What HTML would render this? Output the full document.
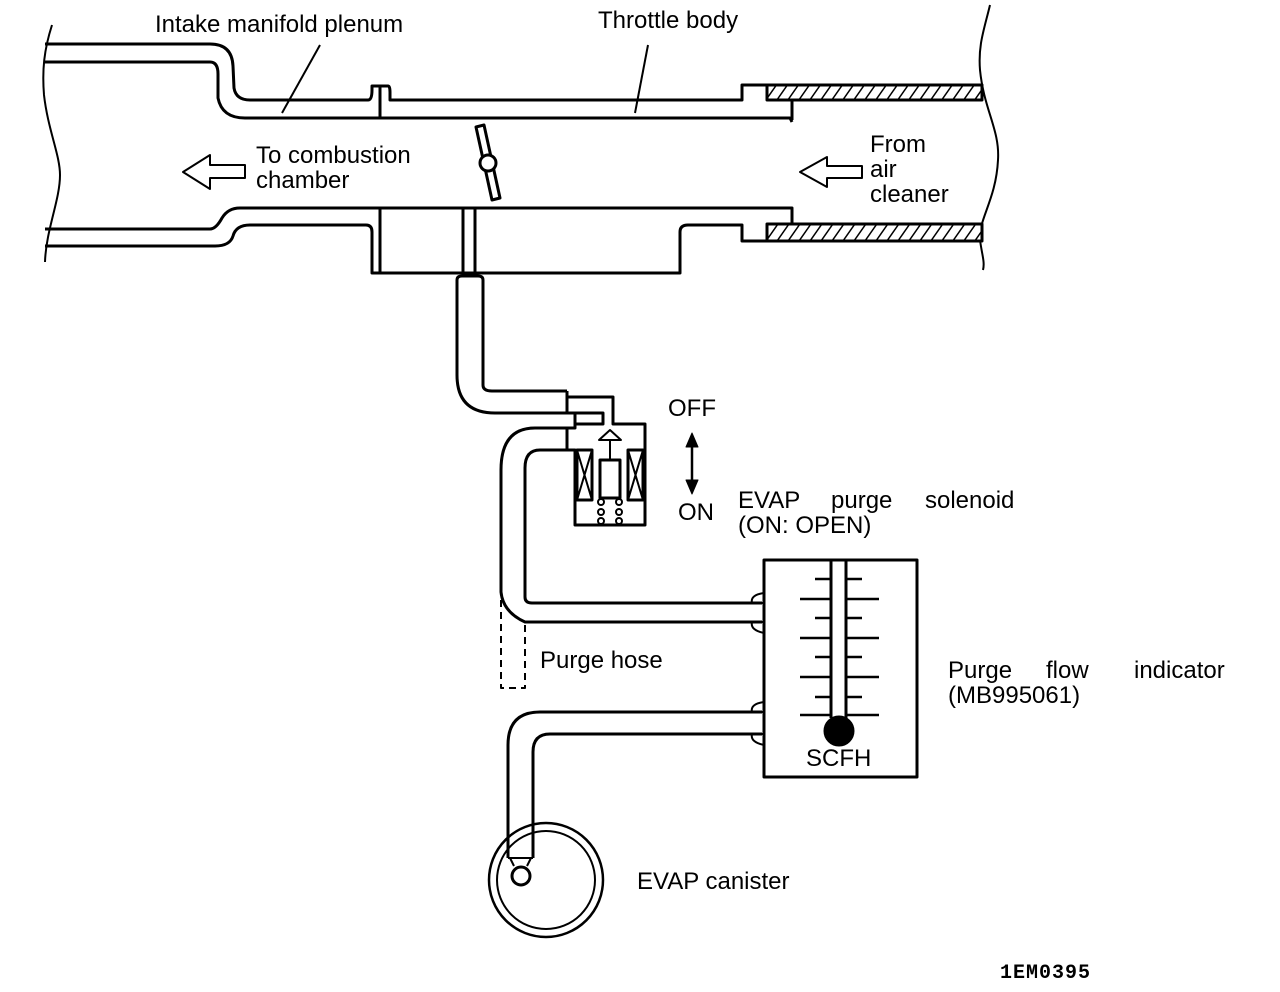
<!DOCTYPE html>
<html><head><meta charset="utf-8"><style>
html,body{margin:0;padding:0;background:#fff}
svg{display:block}
text{font-family:"Liberation Sans",Arial,sans-serif;font-size:24px;fill:#000}
</style></head><body>
<svg width="1280" height="992" viewBox="0 0 1280 992" xmlns="http://www.w3.org/2000/svg">
<defs>
<pattern id="h" width="9" height="9" patternUnits="userSpaceOnUse" patternTransform="rotate(35)">
<rect width="9" height="9" fill="#fff"/><line x1="0" y1="0" x2="0" y2="9" stroke="#000" stroke-width="3"/>
</pattern>
</defs>
<g fill="none" stroke="#000" stroke-width="3" stroke-linejoin="round">
<path d="M52 25 C44 50 42 70 44 95 C48 130 60 155 60 175 C60 200 46 230 45 262" stroke-width="2"/>
<path d="M990 5 C984 30 978 45 980 70 C984 110 1000 130 998 160 C996 200 978 220 980 240 C982 255 985 262 983 270" stroke-width="2"/>
<path d="M45 44 L210 44 Q232 44 233 66 L234 88 Q236 100 250 100 L368 100 Q372 100 372 90 L372 86 L388 86 Q390 86 390 92 L390 100 L742 100 L742 85 L767 85"/>
<path d="M45 62 L210 62 Q218 62 218 74 L218 98 Q222 118 245 118 L790 118 L792 122"/>
<line x1="380" y1="86" x2="380" y2="118"/>
<rect x="767" y="85" width="215" height="15" fill="url(#h)"/>
<line x1="792" y1="100" x2="792" y2="120"/>
<path d="M45 229 L210 229 Q216 229 222 218 Q228 208 240 208 L792 208 L792 224"/>
<path d="M45 246 L215 246 Q230 246 233 236 Q236 225 250 225 L366 225 Q372 225 372 232 L372 273 L680 273 L680 232 Q680 225 688 225 L742 225 L742 241 L767 241"/>
<rect x="767" y="224" width="215" height="17" fill="url(#h)"/>
<line x1="380" y1="208" x2="380" y2="273"/>
<line x1="463" y1="208" x2="463" y2="273"/>
<line x1="475" y1="208" x2="475" y2="273"/>
<path d="M476 127 L484 125 L500 198 L492 200 Z" fill="#fff"/>
<circle cx="488" cy="163" r="8" fill="#fff"/>
<path d="M183 172 L210 155 L210 165 L245 165 L245 178 L210 178 L210 189 Z" stroke-width="2"/>
<path d="M800 172 L827 157 L827 166 L862 166 L862 178 L827 178 L827 187 Z" stroke-width="2"/>
<path d="M457 280 L457 375 Q457 413 495 413 L567 413"/>
<path d="M483 280 L483 385 Q483 391 492 391 L567 391"/>
<path d="M457 280 Q457 276 462 276 L478 276 Q483 276 483 280"/>
<path d="M567 391 L567 413 M567 397 L613 397 L613 424 L645 424 L645 525 L575 525 L575 450 L567 450 L567 428 L575 428 L575 413 M567 413 L603 413 L603 424 L575 424"/>
<path d="M567 428 L575 428"/>
<rect x="577" y="450" width="15" height="50"/>
<path d="M577 450 L592 500 M592 450 L577 500" stroke-width="2"/>
<rect x="628" y="450" width="15" height="50"/>
<path d="M628 450 L643 500 M643 450 L628 500" stroke-width="2"/>
<rect x="600" y="460" width="20" height="38"/>
<line x1="610" y1="460" x2="610" y2="440" stroke-width="2"/>
<path d="M599 440 L610 430 L621 440 Z" stroke-width="2"/>
<g stroke-width="2"><circle cx="601" cy="502" r="3"/><circle cx="619" cy="502" r="3"/><circle cx="601" cy="512" r="3"/><circle cx="619" cy="512" r="3"/><circle cx="601" cy="521" r="3"/><circle cx="619" cy="521" r="3"/></g>
<path d="M567 428 L535 428 Q501 428 501 470 L501 592 Q503 612 525 622 L762 622"/>
<path d="M567 450 L540 450 Q525 450 525 468 L525 597 Q525 603 532 603 L762 603"/>
<path d="M501 600 L501 688 L525 688 L525 620" stroke-dasharray="7 5" stroke-width="2"/>
<rect x="764" y="560" width="153" height="217"/>
<path d="M831 560 L831 718 M846 560 L846 718"/>
<circle cx="839" cy="731" r="14" fill="#000"/>
<g stroke-width="2.5">
<path d="M815 579 L831 579 M846 579 L862 579"/>
<path d="M800 599 L831 599 M846 599 L879 599"/>
<path d="M815 618 L831 618 M846 618 L862 618"/>
<path d="M800 638 L831 638 M846 638 L879 638"/>
<path d="M815 657 L831 657 M846 657 L862 657"/>
<path d="M800 677 L831 677 M846 677 L879 677"/>
<path d="M815 697 L831 697 M846 697 L862 697"/>
<path d="M800 715 L831 715 M846 715 L879 715"/>
</g>
<g stroke-width="2">
<path d="M764 593 Q750 595 752 603 L764 603"/>
<path d="M764 622 L752 622 Q750 630 764 633"/>
<path d="M764 702 Q750 704 752 712 L764 712"/>
<path d="M764 734 L752 734 Q750 742 764 745"/>
</g>
<path d="M762 712 L540 712 Q508 712 508 745 L508 858"/>
<path d="M762 734 L550 734 Q533 734 533 752 L533 858"/>
<path d="M508 858 L533 858 M510 858 L514 866 M531 858 L527 866" stroke-width="2"/>
<circle cx="521" cy="876" r="9"/>
<circle cx="546" cy="880" r="57" stroke-width="2.5"/>
<circle cx="546" cy="880" r="49" stroke-width="2"/>
<path d="M320 45 L282 113" stroke-width="2"/>
<path d="M648 45 L635 113" stroke-width="2"/>
<path d="M692 440 L692 487" stroke-width="2.5"/>
<path d="M686 447 L692 433 L698 447 Z M686 480 L692 494 L698 480 Z" fill="#000" stroke-width="1"/>
</g>
<text x="155" y="32">Intake manifold plenum</text>
<text x="598" y="28">Throttle body</text>
<text x="256" y="163">To combustion</text>
<text x="256" y="188">chamber</text>
<text x="870" y="152">From</text>
<text x="870" y="177">air</text>
<text x="870" y="202">cleaner</text>
<text x="668" y="416">OFF</text>
<text x="678" y="520">ON</text>
<text x="738" y="508">EVAP</text>
<text x="831" y="508">purge</text>
<text x="925" y="508">solenoid</text>
<text x="738" y="533">(ON: OPEN)</text>
<text x="540" y="668">Purge hose</text>
<text x="948" y="678">Purge</text>
<text x="1046" y="678">flow</text>
<text x="1134" y="678">indicator</text>
<text x="948" y="703">(MB995061)</text>
<text x="806" y="766">SCFH</text>
<text x="637" y="889">EVAP canister</text>
<text x="1000" y="978" style="font-family:'Liberation Mono',monospace;font-size:20px;font-weight:bold;letter-spacing:1px">1EM0395</text>
</svg>
</body></html>
